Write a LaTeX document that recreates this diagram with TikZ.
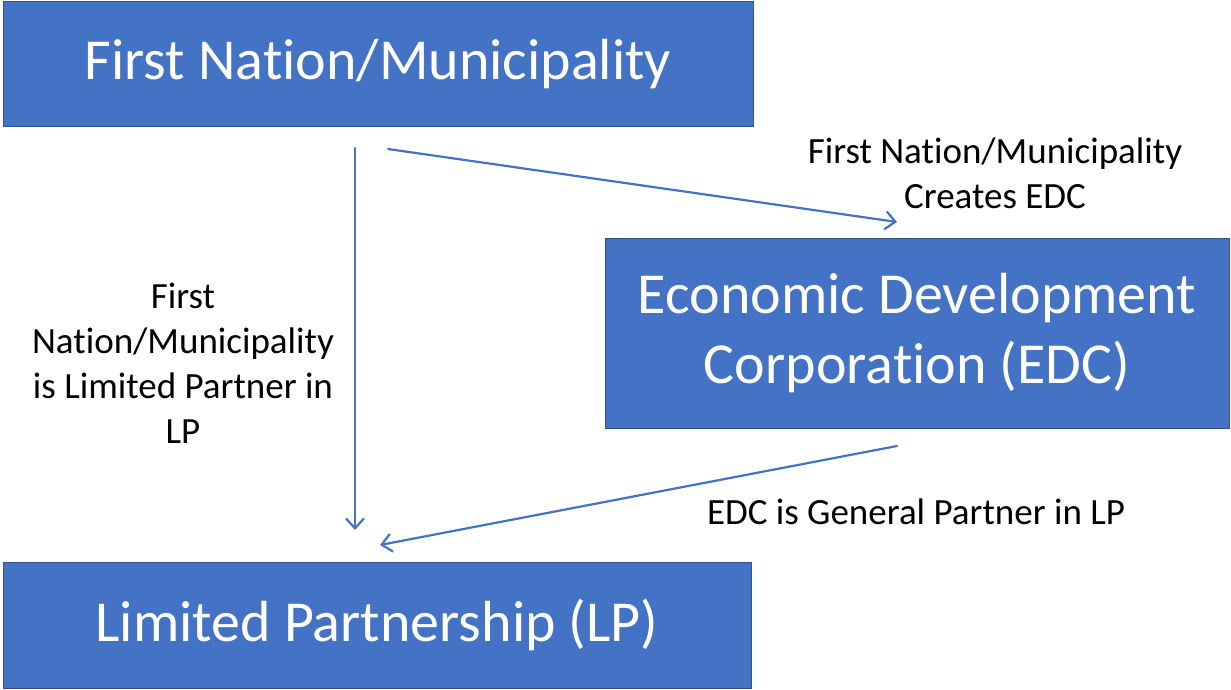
\documentclass[tikz,border=0pt]{standalone}
\usepackage{fontspec}
\setmainfont{Carlito}[Ligatures={NoCommon}]
\usetikzlibrary{arrows.meta}
\definecolor{boxblue}{HTML}{4472C4}
\definecolor{boxedge}{HTML}{2F528F}
\begin{document}
\begin{tikzpicture}[x=1pt,y=-1pt,line join=round,line cap=round,>={Straight Barb[length=10pt,width=18pt]}]
		\tikzset{entity/.style={draw=boxedge,line width=1pt,fill=boxblue,text=white,align=center,inner sep=0pt,font=\fontsize{58}{70}\selectfont},
			link/.style={draw=boxblue,line width=2.2pt},
			note/.style={align=center,font=\fontsize{37}{45}\selectfont}}
		\useasboundingbox (0,0) rectangle (1231,690);
		% boxes
		\node[entity,minimum width=750pt,minimum height=125pt] (nation) at (378,64.5) {First Nation/Municipality};
		\node[entity,minimum width=624pt,minimum height=190pt] (edc) at (917,333) {Economic Development\\Corporation (EDC)};
		\node[entity,minimum width=748pt,minimum height=126pt] (lp) at (377,625) {Limited Partnership (LP)};
		% arrow ends
		\coordinate (nation down) at (355,148);
		\coordinate (lp top) at (355,530);
		\coordinate (nation right) at (388,149);
		\coordinate (edc top) at (897,222);
		\coordinate (edc down) at (897,446);
		\coordinate (lp corner) at (380,545);
		\draw[link,->] (nation down)--(lp top);
		\draw[link,->] (nation right)--(edc top);
		\draw[link,->] (edc down)--(lp corner);
		% labels
		\node[note] (creates) at (995,173) {First Nation/Municipality\\Creates EDC};
		\node[note] (limited) at (183,363) {First\\Nation/Municipality\\is Limited Partner in\\LP};
		\node[note] (general) at (916,512) {EDC is General Partner in LP};
\end{tikzpicture}
\end{document}
